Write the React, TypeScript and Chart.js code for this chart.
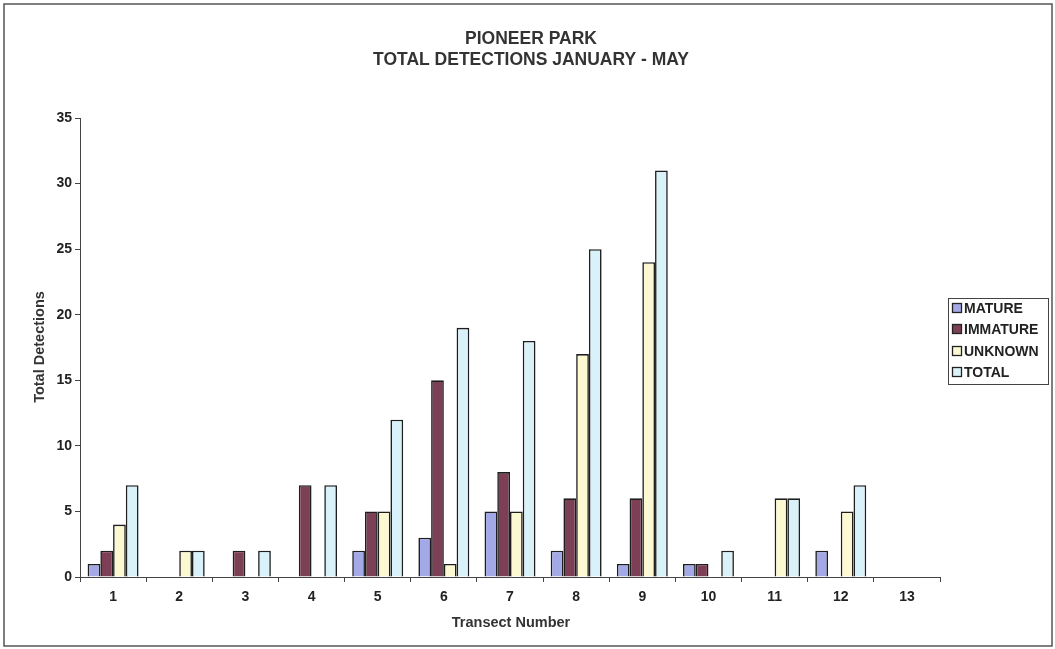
import React, { useEffect, useRef } from "react";
import { Chart, registerables } from "chart.js";

Chart.register(...registerables);

const categories = ["1", "2", "3", "4", "5", "6", "7", "8", "9", "10", "11", "12", "13"];
const mature = [1, 0, 0, 0, 2, 3, 5, 2, 1, 1, 0, 2, 0];
const immature = [2, 0, 2, 7, 5, 15, 8, 6, 6, 1, 0, 0, 0];
const unknown = [4, 2, 0, 0, 5, 1, 5, 17, 24, 0, 6, 5, 0];
const total = [7, 2, 2, 7, 12, 19, 18, 25, 31, 2, 6, 7, 0];
const seriesNames = ["MATURE", "IMMATURE", "UNKNOWN", "TOTAL"];
const seriesColors = ["#a3a9e6", "#7d3f55", "#fbf8d2", "#d9f1f8"];
const titleLines = ["PIONEER PARK", "TOTAL DETECTIONS JANUARY - MAY"];
const yTitle = "Total Detections";
const xTitle = "Transect Number";

const W = 1055;
const H = 649;
const FONT = "'Liberation Sans', Arial, sans-serif";

const decorPlugin = {
  id: "decor",
  afterDraw(chart: any) {
    const ctx = chart.ctx;
    ctx.save();
    // outer frame
    ctx.strokeStyle = "#555";
    ctx.lineWidth = 1.5;
    ctx.strokeRect(4, 4, W - 7, H - 7);
    // title
    ctx.fillStyle = "#333";
    ctx.font = `bold 17.5px ${FONT}`;
    ctx.textAlign = "center";
    ctx.textBaseline = "middle";
    ctx.fillText(titleLines[0], 531, 39);
    ctx.fillText(titleLines[1], 531, 60);
    // axis titles
    ctx.font = `bold 14.5px ${FONT}`;
    ctx.fillText(xTitle, 511, 623);
    ctx.save();
    ctx.translate(40, 347);
    ctx.rotate(-Math.PI / 2);
    ctx.fillText(yTitle, 0, 0);
    ctx.restore();
    // legend
    ctx.strokeStyle = "#444";
    ctx.lineWidth = 1;
    ctx.strokeRect(948.5, 298.5, 100, 86);
    ctx.font = `bold 14px ${FONT}`;
    ctx.textAlign = "left";
    const ys = [308, 329, 351, 372];
    seriesNames.forEach((n, i) => {
      ctx.fillStyle = seriesColors[i];
      ctx.fillRect(952, ys[i] - 4, 9, 9);
      ctx.strokeStyle = "#222";
      ctx.lineWidth = 1.3;
      ctx.strokeRect(952.5, ys[i] - 4.5, 9, 9);
      ctx.fillStyle = "#222";
      ctx.fillText(n, 964, ys[i] + 1);
    });
    ctx.restore();
  },
};

export default function App() {
  const ref = useRef<HTMLCanvasElement>(null);
  useEffect(() => {
    document.body.style.margin = "0";
    const data = [mature, immature, unknown, total];
    const chart = new Chart(ref.current!, {
      type: "bar",
      data: {
        labels: categories,
        datasets: seriesNames.map((n, i) => ({
          label: n,
          data: data[i].map((v) => (v === 0 ? null : v)),
          backgroundColor: seriesColors[i],
          borderColor: "#1e1e1e",
          borderWidth: 1.6,
          categoryPercentage: 0.77,
          barPercentage: 1,
        })),
      },
      options: {
        animation: false,
        responsive: false,
        maintainAspectRatio: false,
        layout: { padding: { top: 118, right: 115, left: 0, bottom: 0 } },
        plugins: { legend: { display: false }, title: { display: false }, tooltip: { enabled: false } },
        scales: {
          x: {
            afterFit: (s: any) => {
              s.height = H - 577;
            },
            border: { color: "#444", width: 1 },
            grid: { display: true, drawOnChartArea: false, offset: true, tickLength: 5, color: "#444" },
            ticks: { color: "#222", font: { family: FONT, size: 14, weight: "bold" }, padding: 7 },
          },
          y: {
            min: 0,
            max: 35,
            afterFit: (s: any) => {
              s.width = 80;
            },
            border: { color: "#444", width: 1 },
            grid: { display: true, drawOnChartArea: false, tickLength: 5, color: "#444" },
            ticks: { stepSize: 5, color: "#222", font: { family: FONT, size: 14, weight: "bold" }, padding: 3 },
          },
        },
      },
      plugins: [decorPlugin],
    } as any);
    return () => chart.destroy();
  }, []);
  return (
    <div style={{ width: W, height: H, background: "#fff" }}>
      <canvas ref={ref} width={W} height={H} style={{ display: "block" }} />
    </div>
  );
}
